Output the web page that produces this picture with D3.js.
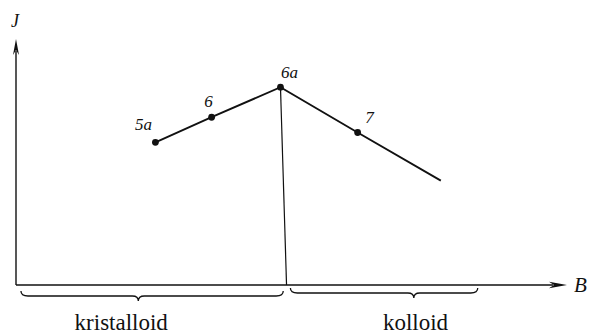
<!DOCTYPE html>
<html>
<head>
<meta charset="utf-8">
<script src="https://d3js.org/d3.v7.min.js"></script>
</head>
<body style="margin:0">
<svg id="chart" width="590" height="335"></svg>
<script>
// curve points (B, J) in arbitrary units, last point has no marker
var curveB = [25.3, 35.5, 48.0, 62.0, 77.1];
var curveJ = [58.0, 68.2, 80.4, 62.0, 42.4];
var curveLabels = ["5a", "6", "6a", "7", null];

// boundary between the two regions drops from point 6a to the B axis
var boundaryFootB = 49.1;

// regions under the B axis
var regionNames = ["kristalloid", "kolloid"];
var regionStart = [0.9, 49.8];
var regionEnd = [48.5, 83.8];
var regionTip = [22.2, 72.2];
var regionLabelB = [19.1, 72.5];

var axisNames = {x: "B", y: "J"};

var serif = "'Liberation Serif', 'Times New Roman', Times, serif";

var svg = d3.select('#chart');

var xScale = d3.scaleLinear().domain([0, 100]).range([16, 567]);
var yScale = d3.scaleLinear().domain([0, 100]).range([285, 39]);

var points = curveB.map(function(b, i) {
    return {b: b, j: curveJ[i], label: curveLabels[i]};
});

// region labels and curly braces under the axis
function bracePath(x0, x1, xt, top) {
    var flat = top + 5, tip = top + 10;
    return 'M' + x0 + ',' + top +
        'Q' + x0 + ',' + flat + ' ' + (x0 + 7) + ',' + flat +
        'L' + (xt - 6) + ',' + flat +
        'Q' + xt + ',' + flat + ' ' + xt + ',' + tip +
        'Q' + xt + ',' + flat + ' ' + (xt + 6) + ',' + flat +
        'L' + (x1 - 7) + ',' + flat +
        'Q' + x1 + ',' + flat + ' ' + x1 + ',' + top;
}
var braceTop = [291, 288];
regionNames.forEach(function(name, i) {
    svg.append('text')
        .attr('class', 'serif')
        .attr('x', xScale(regionLabelB[i]))
        .attr('y', 330)
        .attr('text-anchor', 'middle')
        .attr('fill', '#111')
        .style('font-family', serif)
        .style('font-size', '23px')
        .text(name);
    svg.append('path')
        .attr('d', bracePath(xScale(regionStart[i]), xScale(regionEnd[i]),
            xScale(regionTip[i]), braceTop[i]))
        .attr('fill', 'none')
        .attr('stroke', '#111')
        .attr('stroke-width', 1.3);
});

// axes with long slim arrowheads
svg.append('line')
    .attr('x1', xScale(0)).attr('y1', yScale(0))
    .attr('x2', xScale(100) - 14).attr('y2', yScale(0))
    .attr('stroke', '#111').attr('stroke-width', 1.4);
svg.append('path')
    .attr('d', 'M' + xScale(100) + ',' + yScale(0) +
        'L' + (xScale(100) - 18) + ',' + (yScale(0) - 3.2) +
        'L' + (xScale(100) - 13) + ',' + yScale(0) +
        'L' + (xScale(100) - 18) + ',' + (yScale(0) + 3.2) + 'Z')
    .attr('fill', '#111');

svg.append('line')
    .attr('x1', xScale(0)).attr('y1', yScale(0))
    .attr('x2', xScale(0)).attr('y2', yScale(100) + 12)
    .attr('stroke', '#111').attr('stroke-width', 1.4);
svg.append('path')
    .attr('d', 'M' + xScale(0) + ',' + yScale(100) +
        'L' + (xScale(0) - 3) + ',' + (yScale(100) + 16) +
        'L' + xScale(0) + ',' + (yScale(100) + 11) +
        'L' + (xScale(0) + 3) + ',' + (yScale(100) + 16) + 'Z')
    .attr('fill', '#111');

svg.append('text')
    .attr('class', 'serif')
    .attr('x', xScale(100) + 7).attr('y', yScale(0) + 7)
    .attr('fill', '#111')
    .style('font-family', serif).style('font-style', 'italic')
    .style('font-size', '21px')
    .text(axisNames.x);
svg.append('text')
    .attr('class', 'serif')
    .attr('x', xScale(0) - 5).attr('y', yScale(100) - 12)
    .attr('fill', '#111')
    .style('font-family', serif).style('font-style', 'italic')
    .style('font-size', '18px')
    .text(axisNames.y);

// boundary line
var peak = points[2];
svg.append('line')
    .attr('x1', xScale(peak.b)).attr('y1', yScale(peak.j))
    .attr('x2', xScale(boundaryFootB)).attr('y2', yScale(0))
    .attr('stroke', '#111').attr('stroke-width', 1.2);

// curve
var line = d3.line()
    .x(function(d) { return xScale(d.b); })
    .y(function(d) { return yScale(d.j); });
svg.append('path')
    .datum(points)
    .attr('d', line)
    .attr('fill', 'none')
    .attr('stroke', '#111')
    .attr('stroke-width', 1.9);

var marked = points.filter(function(d) { return d.label; });
svg.selectAll('.dot').data(marked).enter()
    .append('circle')
    .attr('class', 'dot')
    .attr('cx', function(d) { return xScale(d.b); })
    .attr('cy', function(d) { return yScale(d.j); })
    .attr('r', 3.4)
    .attr('fill', '#111');

var labelShift = {"5a": [-12, -12], "6": [-3, -10], "6a": [9, -9], "7": [12, -9]};
svg.selectAll('.plabel').data(marked).enter()
    .append('text')
    .attr('class', 'plabel serif')
    .attr('x', function(d) { return xScale(d.b) + labelShift[d.label][0]; })
    .attr('y', function(d) { return yScale(d.j) + labelShift[d.label][1]; })
    .attr('text-anchor', 'middle')
    .attr('fill', '#111')
    .style('font-family', serif).style('font-style', 'italic')
    .style('font-size', '17px')
    .text(function(d) { return d.label; });

// re-apply the font once the font set is ready, so nothing stays on a fallback face
if (document.fonts && document.fonts.ready) {
    document.fonts.ready.then(function() {
        svg.selectAll('text.serif')
            .style('font-family', null)
            .style('font-family', serif);
    });
}
</script>
</body>
</html>
